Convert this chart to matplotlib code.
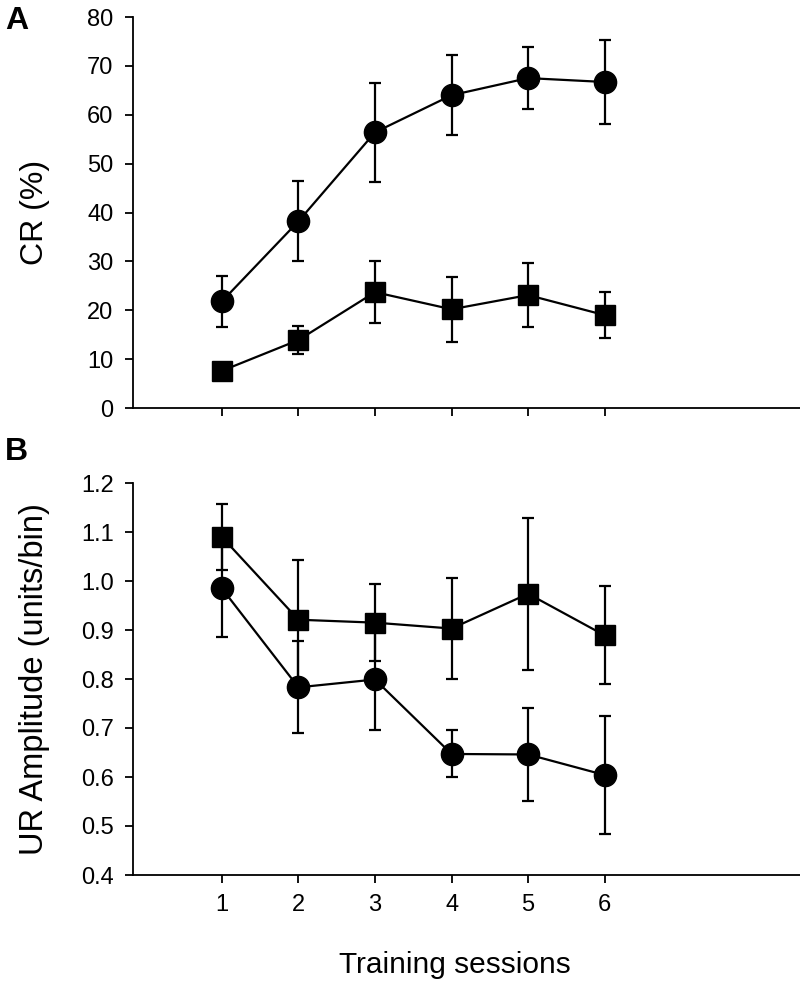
import numpy as np
import matplotlib
matplotlib.use("Agg")
import matplotlib.pyplot as plt

plt.rcParams['font.family'] = ['Liberation Sans', 'DejaVu Sans']

sessions = [1, 2, 3, 4, 5, 6]

# panel A: CR (%)
cr_circle = [21.8, 38.2, 56.4, 64.0, 67.5, 66.7]
cr_circle_err = [5.3, 8.2, 10.1, 8.2, 6.4, 8.5]
cr_square = [7.6, 13.9, 23.7, 20.2, 23.1, 19.0]
cr_square_err = [1.5, 2.8, 6.4, 6.7, 6.6, 4.7]

# panel B: UR amplitude (units/bin)
ur_circle = [0.985, 0.783, 0.799, 0.647, 0.646, 0.604]
ur_circle_err = [0.10, 0.094, 0.104, 0.048, 0.095, 0.12]
ur_square = [1.09, 0.921, 0.915, 0.903, 0.974, 0.889]
ur_square_err = [0.068, 0.122, 0.079, 0.104, 0.155, 0.10]

W, H = 800, 992
fig = plt.figure(figsize=(W / 100, H / 100), dpi=100)

left = 133 / W
width = 1 - left
axA = fig.add_axes([left, 1 - 408 / H, width, (408 - 17) / H])
axB = fig.add_axes([left, 1 - 875 / H, width, (875 - 483) / H])

style = dict(color='black', lw=1.6, elinewidth=1.6, capsize=4, capthick=1.6)


def draw(ax, circ, circ_err, sq, sq_err):
    ax.errorbar(sessions, sq, yerr=sq_err, marker='s', ms=14.5, **style)
    ax.errorbar(sessions, circ, yerr=circ_err, marker='o', ms=16, **style)
    for s in ['top', 'right']:
        ax.spines[s].set_visible(False)
    for s in ['left', 'bottom']:
        ax.spines[s].set_linewidth(1.3)
    ax.set_xlim(-0.16, 8.55)
    ax.set_xticks(sessions)
    ax.tick_params(direction='out', length=6, width=1.3, labelsize=17, pad=8)


ylab_x = (50 - 133) / (W - 133)

draw(axA, cr_circle, cr_circle_err, cr_square, cr_square_err)
axA.set_ylim(0, 80)
axA.set_yticks(np.arange(0, 81, 10))
axA.set_xticklabels([])
axA.set_ylabel('CR (%)', fontsize=23)
axA.yaxis.set_label_coords(ylab_x, 0.5)

draw(axB, ur_circle, ur_circle_err, ur_square, ur_square_err)
axB.set_ylim(0.4, 1.2)
axB.set_yticks(np.arange(0.4, 1.21, 0.1))
axB.set_yticklabels([f'{v:.1f}' for v in np.arange(0.4, 1.21, 0.1)])
axB.set_ylabel('UR Amplitude (units/bin)', fontsize=23.5)
axB.yaxis.set_label_coords(ylab_x, 0.5)
axB.set_xlabel('Training sessions', fontsize=21.5)
axB.xaxis.set_label_coords((455 - 133) / (W - 133), (875 - 951) / (875 - 483))

fig.text(5 / W, 1 - 21 / H, 'A', fontsize=23, fontweight='bold', va='center')
fig.text(5 / W, 1 - 452 / H, 'B', fontsize=23, fontweight='bold', va='center')

fig.savefig('out.png', dpi=100)
